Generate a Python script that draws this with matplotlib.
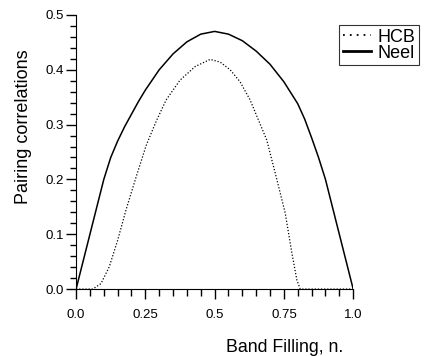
import numpy as np
import matplotlib
matplotlib.use('Agg')
import matplotlib.pyplot as plt
from matplotlib.ticker import MultipleLocator
from matplotlib.lines import Line2D

plt.rcParams['font.family'] = ['Liberation Sans', 'DejaVu Sans']

# Neel curve
n_neel = [0.0, 0.05, 0.1, 0.125, 0.15, 0.175, 0.2, 0.225, 0.25, 0.3, 0.35, 0.4,
          0.45, 0.5, 0.55, 0.6, 0.65, 0.7, 0.75, 0.8, 0.825, 0.85, 0.875,
          0.9, 0.95, 1.0]
neel = [0.0, 0.10, 0.20, 0.240, 0.270, 0.296, 0.319, 0.342, 0.363, 0.400, 0.429,
        0.451, 0.465, 0.470, 0.465, 0.453, 0.434, 0.410, 0.378, 0.338, 0.310,
        0.276, 0.240, 0.20, 0.10, 0.0]

# HCB curve
n_hcb = [0.0, 0.06, 0.09, 0.12, 0.15, 0.18, 0.217, 0.253, 0.289, 0.325, 0.375,
         0.43, 0.484, 0.52, 0.556, 0.592, 0.628, 0.688, 0.725, 0.755, 0.779,
         0.797, 0.809, 1.0]
hcb = [0.0, 0.0, 0.010, 0.041, 0.089, 0.144, 0.205, 0.262, 0.306, 0.345, 0.381,
       0.406, 0.419, 0.414, 0.400, 0.378, 0.345, 0.272, 0.199, 0.138, 0.065,
       0.016, 0.0, 0.0]

fig = plt.figure(figsize=(4.25, 3.56), dpi=100)
ax = fig.add_axes([0.179, 0.188, 0.652, 0.770])

ax.plot(n_hcb, hcb, color='black', lw=0.9, linestyle=(0, (1, 1.5)))
ax.plot(n_neel, neel, color='black', lw=1.1)

ax.set_xlim(0, 1.0)
ax.set_ylim(0, 0.5)
ax.xaxis.set_minor_locator(MultipleLocator(0.05))
ax.yaxis.set_minor_locator(MultipleLocator(0.02))
ax.set_xticks([0, 0.25, 0.5, 0.75, 1.0])
ax.set_xticklabels(['0.0', '0.25', '0.5', '0.75', '1.0'])
ax.set_yticks([0, 0.1, 0.2, 0.3, 0.4, 0.5])
ax.set_yticklabels(['0.0', '0.1', '0.2', '0.3', '0.4', '0.5'])

for s in ['top', 'right']:
    ax.spines[s].set_visible(False)
ax.tick_params(which='major', length=7, width=1, labelsize=9.5)
ax.tick_params(axis='x', which='major', pad=7)
ax.tick_params(axis='y', which='major', pad=2)
ax.tick_params(axis='x', which='minor', length=5, width=1)
ax.tick_params(axis='y', which='minor', length=4, width=1)

ax.set_ylabel('Pairing correlations', fontsize=13)
ax.yaxis.set_label_coords(-0.158, 0.593)
ax.set_xlabel('Band Filling, n.', fontsize=12.8)
ax.xaxis.set_label_coords(0.751, -0.212)
ax.xaxis.label.set_va('center')

handles = [Line2D([], [], color='black', lw=1.3, linestyle=(0, (1, 2.8))),
           Line2D([], [], color='black', lw=2)]
leg = fig.legend(handles, ['HCB', 'Neel'], loc='upper left',
                 bbox_to_anchor=(0.798, 0.93), fontsize=13,
                 frameon=True, fancybox=False, edgecolor='black',
                 handlelength=1.55, handletextpad=0.35, borderpad=0.2,
                 labelspacing=-0.05, borderaxespad=0)
leg.get_frame().set_linewidth(0.8)

fig.savefig('out.png', dpi=100)
